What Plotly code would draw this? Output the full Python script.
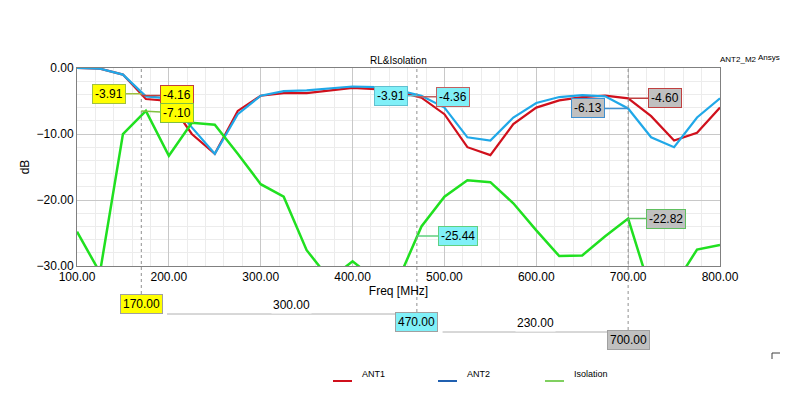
import plotly.graph_objects as go

freq = [100,125,150,175,200,225,250,275,300,325,350,375,400,425,450,475,500,525,550,575,600,625,650,675,700,725,750,775,800]
ant1 = [0,-0.1,-1,-4.7,-5,-10,-13,-6.5,-4.2,-3.8,-3.8,-3.4,-3.0,-3.2,-3.6,-4.5,-7,-12,-13.2,-8.5,-6,-4.9,-4.4,-4.2,-4.6,-7.3,-11,-9.8,-6]
ant2 = [0,-0.1,-1,-4.3,-4.6,-9,-13,-7,-4.2,-3.5,-3.4,-3.1,-2.8,-2.9,-3.4,-4.2,-6,-10.5,-11,-7.5,-5.3,-4.4,-4.1,-4.3,-6.13,-10.5,-12,-7.5,-4.6]
iso = [-24.8,-31,-10,-6.5,-13.3,-8.3,-8.6,-13,-17.6,-19.5,-27.6,-32,-29.3,-32,-32,-24,-19.5,-17,-17.3,-20.5,-24.6,-28.5,-28.4,-25.5,-22.82,-34,-33,-27.5,-26.8]

markers_x = [170, 470, 700]
marker_colors = ["#ffff00", "#80f0f8", "#c0c0c0"]
# (x, y, text, fill, border, ax, ay)
labels = [
    (170, -3.91, "-3.91", "#ffff00", "#a0c040", -32, 0),
    (170, -4.16, "-4.16", "#ffff00", "#c04040", 36, 0),
    (170, -6.5, "-7.10", "#ffff00", "#80c040", 36, 2),
    (470, -4.2, "-3.91", "#80f0f8", "#60c0d0", -26, 0),
    (470, -4.36, "-4.36", "#80f0f8", "#c06060", 36, 0),
    (470, -25.44, "-25.44", "#80f0f8", "#60d080", 41, 0),
    (700, -4.6, "-4.60", "#c0c0c0", "#c04040", 37, 0),
    (700, -6.13, "-6.13", "#c0c0c0", "#4090d0", -40, 0),
    (700, -22.82, "-22.82", "#c0c0c0", "#60c060", 38, 0),
]
deltas = ["300.00", "230.00"]

fig = go.Figure()
fig.add_trace(go.Scatter(x=freq, y=ant1, mode="lines", line=dict(color="#d0101c", width=2.2), name="ANT1"))
fig.add_trace(go.Scatter(x=freq, y=ant2, mode="lines", line=dict(color="#20a8e8", width=2.2), name="ANT2"))
fig.add_trace(go.Scatter(x=freq, y=iso, mode="lines", line=dict(color="#20e020", width=2.5), name="Isolation"))

def py(px):
    return (265 - px) / 198
def pxx(px):
    return (px - 77) / 643

shapes = []
anns = []
row_px = [313, 331, 349]
for i, (mx, col) in enumerate(zip(markers_x, marker_colors)):
    shapes.append(dict(type="line", xref="x", yref="paper", x0=mx, x1=mx, y0=py(row_px[i] - 8), y1=1,
                       line=dict(color="#909090", width=1, dash="dot")))
    anns.append(dict(x=mx, y=py(row_px[i]), xref="x", yref="paper", text=f"{mx:.2f}", showarrow=False,
                     bgcolor=col, bordercolor="#a0a0a0", borderwidth=1, font=dict(size=12, color="black"), borderpad=2))
for i in range(2):
    shapes.append(dict(type="line", xref="x", yref="paper", x0=markers_x[i] + 28, x1=markers_x[i + 1],
                       y0=py(row_px[i]), y1=py(row_px[i]), line=dict(color="#b0b0b0", width=1)))
    anns.append(dict(x=(markers_x[i] + markers_x[i + 1]) / 2 + 14, y=py(row_px[i]), xref="x", yref="paper",
                     text=deltas[i], showarrow=False, bgcolor="white", font=dict(size=12, color="black")))

for (x, y, t, fill, border, ax, ay) in labels:
    anns.append(dict(x=x, y=y, xref="x", yref="y", text=t, showarrow=True, ax=ax, ay=ay, arrowhead=0,
                     arrowcolor=border, arrowwidth=1.5, bgcolor=fill, bordercolor=border, borderwidth=1,
                     font=dict(size=12, color="black"), borderpad=2))

# legend
for (x0, col, t) in [(333, "#d0101c", "ANT1"), (438, "#2060b0", "ANT2"), (545, "#80d060", "Isolation")]:
    shapes.append(dict(type="line", xref="paper", yref="paper", x0=pxx(x0), x1=pxx(x0 + 19),
                       y0=py(380), y1=py(380), line=dict(color=col, width=2)))
    anns.append(dict(x=pxx(x0 + 27), y=py(380), xref="paper", yref="paper", text=t, showarrow=False,
                     xanchor="left", font=dict(size=9, color="black")))

anns.append(dict(x=0.5, y=py(52), xref="paper", yref="paper", text="RL&Isolation", showarrow=False,
                 font=dict(size=10, color="black")))
anns.append(dict(x=pxx(718), y=py(52), xref="paper", yref="paper", text="ANT2_M2", showarrow=False,
                 xanchor="left", font=dict(size=8, color="black")))
anns.append(dict(x=pxx(756), y=py(50), xref="paper", yref="paper", text="Ansys", showarrow=False,
                 xanchor="left", font=dict(size=8, color="black")))
shapes.append(dict(type="path", xref="paper", yref="paper",
                   path=f"M {pxx(772)} {py(358)} L {pxx(772)} {py(352)} L {pxx(780)} {py(352)}",
                   line=dict(color="#404040", width=1)))

fig.update_layout(
    width=798, height=408, margin=dict(l=69, r=86, t=60, b=150),
    plot_bgcolor="white", paper_bgcolor="white", showlegend=False,
    font=dict(family="Liberation Sans, Arial", color="black"),
    shapes=shapes, annotations=anns,
    xaxis=dict(range=[100, 800], dtick=100, tickformat=".2f", showgrid=True, gridcolor="#c8c8c8",
               minor=dict(dtick=20, showgrid=True, gridcolor="#ececec"), showline=True, linecolor="#808080",
               mirror=True, zeroline=False, ticks="", tickfont=dict(size=12),
               title=dict(text="Freq [MHz]", font=dict(size=12), standoff=2)),
    yaxis=dict(range=[-30, 0], dtick=10, tickformat=".2f", showgrid=True, gridcolor="#c8c8c8",
               minor=dict(dtick=2, showgrid=True, gridcolor="#ececec"), showline=True, linecolor="#808080",
               mirror=True, zeroline=False, ticks="", tickfont=dict(size=12),
               title=dict(text="dB", font=dict(size=12), standoff=4)),
)
fig.write_html("out.html")
